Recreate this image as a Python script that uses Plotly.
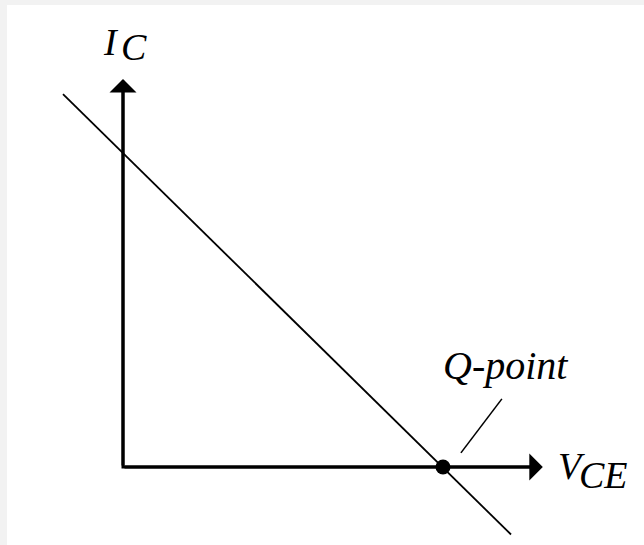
import plotly.graph_objects as go

# ---- diagram data (V_CE along x, I_C along y, arbitrary units) ----
load_line_vce = [-1.875, 12.125]
load_line_ic = [11.875, -2.15]

q_point_vce = [10.0]
q_point_ic = [0.0]

axes_vce = [0.0, 0.0, 13.0]        # I_C axis top -> origin -> V_CE axis end
axes_ic = [12.3, 0.0, 0.0]

ic_arrow_tip = (0.0, 12.36)
vce_arrow_tip = (13.12, 0.0)

leader_vce = [10.56, 11.84]
leader_ic = [0.45, 2.17]

label_text = ["I", "C", "V", "CE", "Q-point"]
label_vce = [-0.36, 0.33, 14.0, 15.02, 11.94]
label_ic = [13.52, 13.39, 0.02, -0.25, 3.22]
label_size = [38, 38, 38, 38, 40]

fig = go.Figure()

fig.add_trace(go.Scatter(x=load_line_vce, y=load_line_ic, mode="lines",
                         line=dict(color="black", width=1.8),
                         hoverinfo="skip", showlegend=False))
fig.add_trace(go.Scatter(x=axes_vce, y=axes_ic, mode="lines",
                         line=dict(color="black", width=3),
                         hoverinfo="skip", showlegend=False))
fig.add_trace(go.Scatter(x=leader_vce, y=leader_ic, mode="lines",
                         line=dict(color="black", width=1.6),
                         hoverinfo="skip", showlegend=False))
fig.add_trace(go.Scatter(x=q_point_vce, y=q_point_ic, mode="markers",
                         marker=dict(color="black", size=15, symbol="circle"),
                         hoverinfo="skip", showlegend=False))

# arrow heads
for tip in (ic_arrow_tip, vce_arrow_tip):
    fig.add_annotation(x=tip[0], y=tip[1], ax=0, ay=0, xref="x", yref="y",
                       axref="x", ayref="y", text="", showarrow=True,
                       arrowhead=1, arrowsize=1.5, arrowwidth=3,
                       arrowcolor="black")

for t, xv, yv, fs in zip(label_text, label_vce, label_ic, label_size):
    fig.add_annotation(x=xv, y=yv, xref="x", yref="y", text=f"<i>{t}</i>",
                       showarrow=False,
                       font=dict(family="Liberation Serif", size=fs, color="black"),
                       xanchor="center", yanchor="middle")

fig.update_layout(
    width=644, height=545,
    margin=dict(l=7, r=0, t=5, b=0),
    paper_bgcolor="#f2f2f2",
    plot_bgcolor="white",
    xaxis=dict(range=[-3.625, 16.28125], visible=False, fixedrange=True),
    yaxis=dict(range=[-2.484, 14.713], visible=False, fixedrange=True),
    showlegend=False,
)

fig.write_html("out.html", config={"displayModeBar": False},
               post_script="document.body.style.margin='0';document.body.style.overflow='hidden';")
